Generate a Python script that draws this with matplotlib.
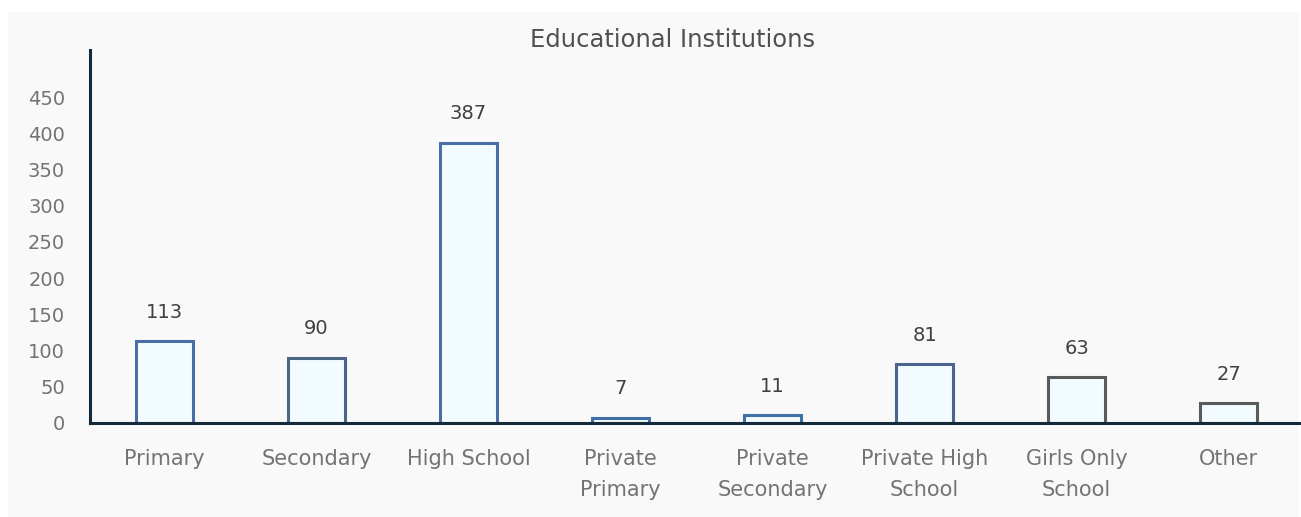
import matplotlib.pyplot as plt
from matplotlib.patches import Rectangle

categories = ['Primary', 'Secondary', 'High School', 'Private\nPrimary', 'Private\nSecondary',
              'Private High\nSchool', 'Girls Only\nSchool', 'Other']
counts = [113, 90, 387, 7, 11, 81, 63, 27]
edge_colors = ['#4a6ea6', '#4a6686', '#4a6ea6', '#3f6fa6', '#3f6fa6', '#4a6690', '#5a5a5a', '#5a5a5a']

plt.rcParams['font.family'] = ['DejaVu Sans']

fig = plt.figure(figsize=(13.01, 5.17), dpi=100, facecolor='white')
# light panel behind the chart
fig.patches.append(Rectangle((8 / 1301, 0), 1291 / 1301, 505 / 517, transform=fig.transFigure,
                             facecolor='#f9f9f9', edgecolor='none', zorder=-1))

ax = fig.add_axes([90 / 1301, 94 / 517, 1210 / 1301, 373 / 517])
ax.set_facecolor('none')

x = range(len(categories))
bars = ax.bar(x, counts, width=0.38, color='#f2fbff', edgecolor=edge_colors, linewidth=2.2)
for i, v in enumerate(counts):
    ax.annotate(str(v), (i, v), xytext=(0, 14), textcoords='offset points',
                ha='center', va='bottom', fontsize=14, color='#404040')

ax.set_xlim(-0.49, 7.47)
ax.set_ylim(0, 515)
ax.set_yticks(range(0, 451, 50))
ax.set_xticks(list(x))
ax.set_xticklabels(categories, linespacing=1.65, fontsize=15)
ax.tick_params(axis='both', length=0, labelcolor='#737373')
ax.tick_params(axis='y', pad=18, labelsize=14)
ax.tick_params(axis='x', pad=19)

for s in ['top', 'right']:
    ax.spines[s].set_visible(False)
for s in ['left', 'bottom']:
    ax.spines[s].set_color('#142a3a')
    ax.spines[s].set_linewidth(2.2)

fig.text(673 / 1301, 1 - 40 / 517, 'Educational Institutions', ha='center', va='center',
         fontsize=17.5, color='#505050')

fig.savefig('out.png', dpi=100, facecolor='white')
